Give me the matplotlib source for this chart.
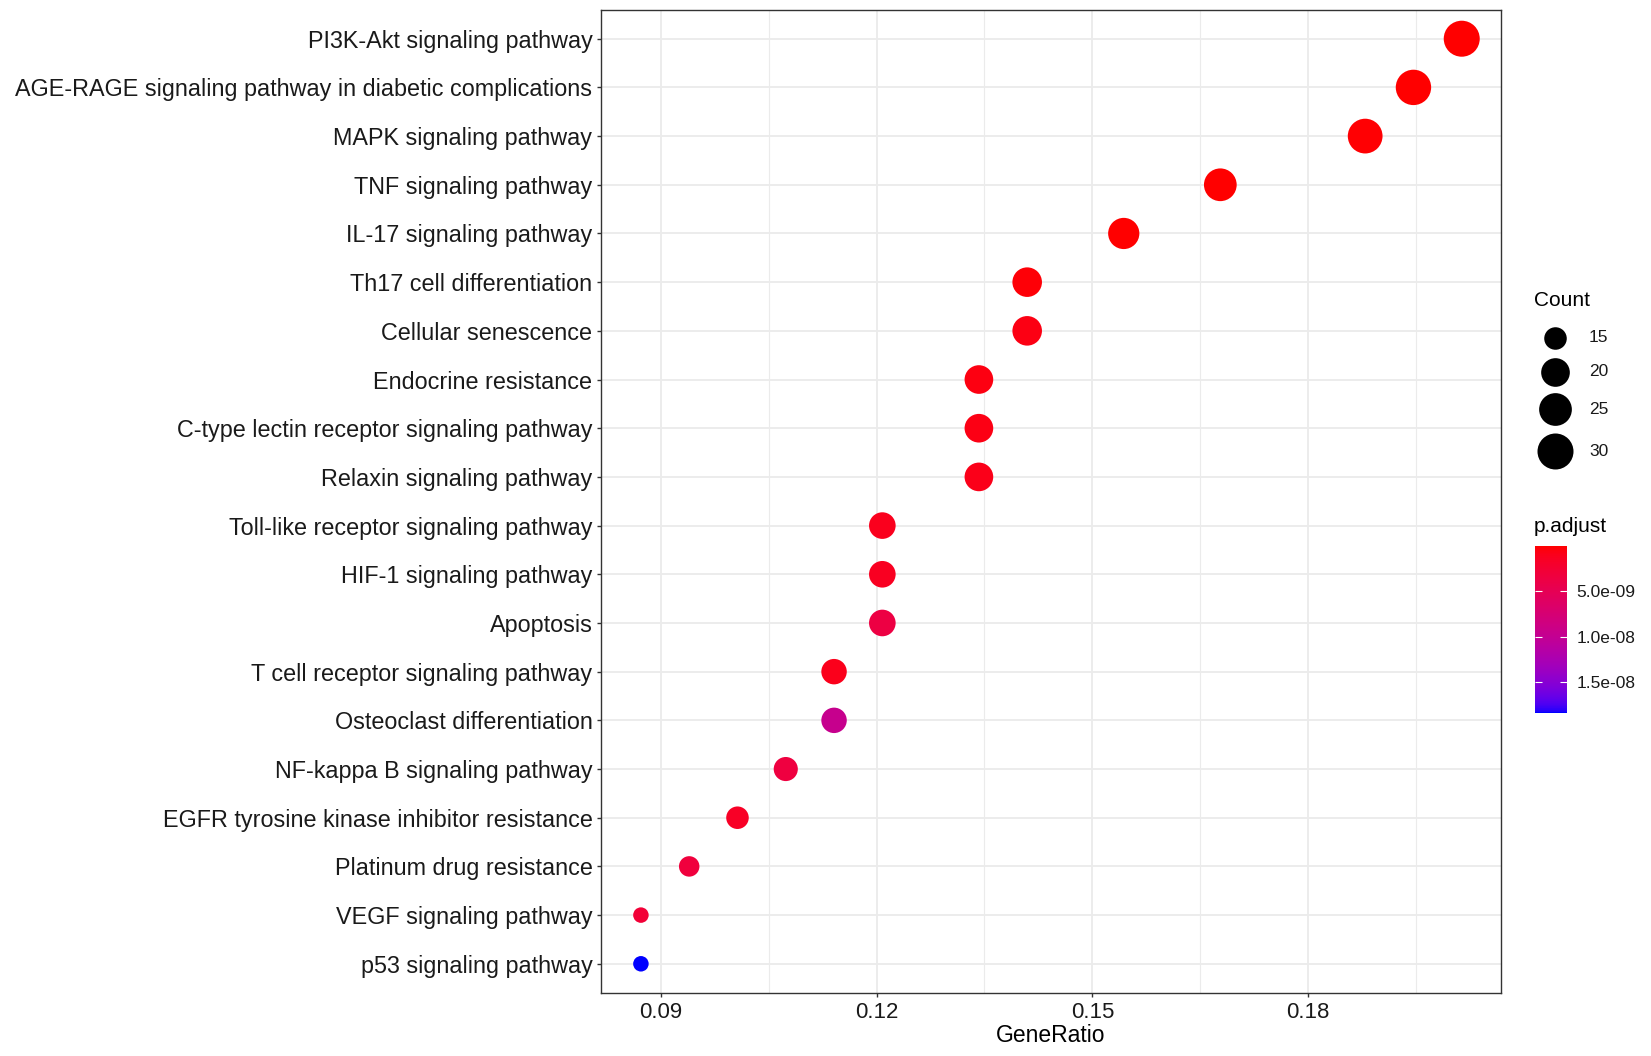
import numpy as np
import matplotlib
matplotlib.use("Agg")
from matplotlib import pyplot as plt
from matplotlib.colors import ListedColormap, Normalize
from matplotlib.cm import ScalarMappable

pathways = [
    "PI3K-Akt signaling pathway",
    "AGE-RAGE signaling pathway in diabetic complications",
    "MAPK signaling pathway",
    "TNF signaling pathway",
    "IL-17 signaling pathway",
    "Th17 cell differentiation",
    "Cellular senescence",
    "Endocrine resistance",
    "C-type lectin receptor signaling pathway",
    "Relaxin signaling pathway",
    "Toll-like receptor signaling pathway",
    "HIF-1 signaling pathway",
    "Apoptosis",
    "T cell receptor signaling pathway",
    "Osteoclast differentiation",
    "NF-kappa B signaling pathway",
    "EGFR tyrosine kinase inhibitor resistance",
    "Platinum drug resistance",
    "VEGF signaling pathway",
    "p53 signaling pathway",
]
counts = [30, 29, 28, 25, 23, 21, 21, 20, 20, 20, 18, 18, 18, 17, 17, 16, 15, 14, 13, 13]
total_genes = 149
p_adjust = [
    1.2e-12, 3.5e-13, 8.0e-11, 1.5e-13, 4.0e-12, 2.6e-10, 6.0e-10, 5.5e-10,
    7.0e-10, 9.0e-10, 1.1e-9, 1.3e-9, 3.6e-9, 1.0e-9, 9.6e-9, 3.4e-9,
    1.6e-9, 3.2e-9, 2.8e-9, 1.84e-8,
]
legend_counts = [15, 20, 25, 30]
cbar_ticks = [5e-9, 1e-8, 1.5e-8]

gene_ratio = np.array(counts) / total_genes


def lab_to_rgb(L, a, b):
    fy = (L + 16) / 116
    fx = fy + a / 500
    fz = fy - b / 200

    def finv(t):
        return np.where(t > 6 / 29, t ** 3, 3 * (6 / 29) ** 2 * (t - 4 / 29))

    X, Y, Z = 0.95047 * finv(fx), 1.0 * finv(fy), 1.08883 * finv(fz)
    r = 3.2406 * X - 1.5372 * Y - 0.4986 * Z
    g = -0.9689 * X + 1.8758 * Y + 0.0415 * Z
    bb = 0.0557 * X - 0.2040 * Y + 1.0570 * Z
    rgb = np.stack([r, g, bb], axis=-1)
    rgb = np.clip(rgb, 0, 1)
    return np.where(rgb <= 0.0031308, 12.92 * rgb, 1.055 * rgb ** (1 / 2.4) - 0.055)


# red -> blue in Lab, like ggplot's gradient
t = np.linspace(0, 1, 256)
red_lab = np.array([53.24, 80.09, 67.20])
blue_lab = np.array([32.30, 79.19, -107.86])
lab = red_lab[None, :] * (1 - t[:, None]) + blue_lab[None, :] * t[:, None]
cmap = ListedColormap(lab_to_rgb(lab[:, 0], lab[:, 1], lab[:, 2]))
norm = Normalize(vmin=min(p_adjust), vmax=max(p_adjust))


def point_px(c):
    # ggplot area_pal style
    cmin, cmax = min(counts), max(counts)
    return 15.5 + (36 - 15.5) * np.sqrt((np.asarray(c) - cmin) / (cmax - cmin))


def px_to_s(d):
    return (np.asarray(d) * 72 / 100) ** 2


W, H = 1651, 1056
fig = plt.figure(figsize=(W / 100, H / 100), dpi=100)
plt.rcParams["font.family"] = ["Liberation Sans", "DejaVu Sans"]

ax = fig.add_axes([601 / W, 1 - 993 / H, 900 / W, 983.5 / H])
ypos = np.arange(len(pathways))[::-1]
ax.scatter(gene_ratio, ypos, s=px_to_s(point_px(counts)), c=p_adjust,
           cmap=cmap, norm=norm, linewidths=0, zorder=3)

ax.set_xlim(0.0817, 0.2068)
ax.set_ylim(-0.6, len(pathways) - 0.4)
ax.set_xticks([0.09, 0.12, 0.15, 0.18])
ax.set_xticklabels(["0.09", "0.12", "0.15", "0.18"], fontsize=16)
ax.set_xticks([0.105, 0.135, 0.165, 0.195], minor=True)
ax.set_yticks(ypos)
ax.set_yticklabels(pathways, fontsize=16.8)
ax.grid(True, which="major", color="#EBEBEB", linewidth=1.3, zorder=0)
ax.grid(True, which="minor", axis="x", color="#EBEBEB", linewidth=0.8, zorder=0)
ax.set_axisbelow(True)
ax.tick_params(which="major", length=3.2, width=1.0, color="#333333", pad=3,
               labelcolor="#1a1a1a")
ax.tick_params(which="minor", length=0)
for sp in ax.spines.values():
    sp.set_color("#333333")
    sp.set_linewidth(1.0)
ax.set_xlabel("GeneRatio", fontsize=16.5, labelpad=1)

# legends on an overlay in pixel space
ov = fig.add_axes([0, 0, 1, 1], zorder=-1)
ov.set_xlim(0, W)
ov.set_ylim(H, 0)
ov.axis("off")
ov.text(1534, 301, "Count", fontsize=15, ha="left", va="center")
for c, yy in zip(legend_counts, [338, 372, 409, 451]):
    ov.scatter([1555], [yy], s=px_to_s(point_px(c)), color="black", linewidths=0)
    ov.text(1589, yy, str(c), fontsize=12.5, ha="left", va="center", color="#1a1a1a")
ov.text(1534, 526, "p.adjust", fontsize=15, ha="left", va="center")

cax = fig.add_axes([1535 / W, 1 - 713 / H, 32 / W, 167 / H])
cb = fig.colorbar(ScalarMappable(norm=norm, cmap=cmap), cax=cax)
cb.outline.set_visible(False)
cax.invert_yaxis()
cb.set_ticks(cbar_ticks)
cb.set_ticklabels(["%.1e" % v for v in cbar_ticks])
cax.tick_params(axis="y", direction="in", length=5, width=0.8, color="white",
                labelsize=12.5, labelcolor="#1a1a1a", pad=7, left=True, right=True)

fig.savefig("out.png", dpi=100)
